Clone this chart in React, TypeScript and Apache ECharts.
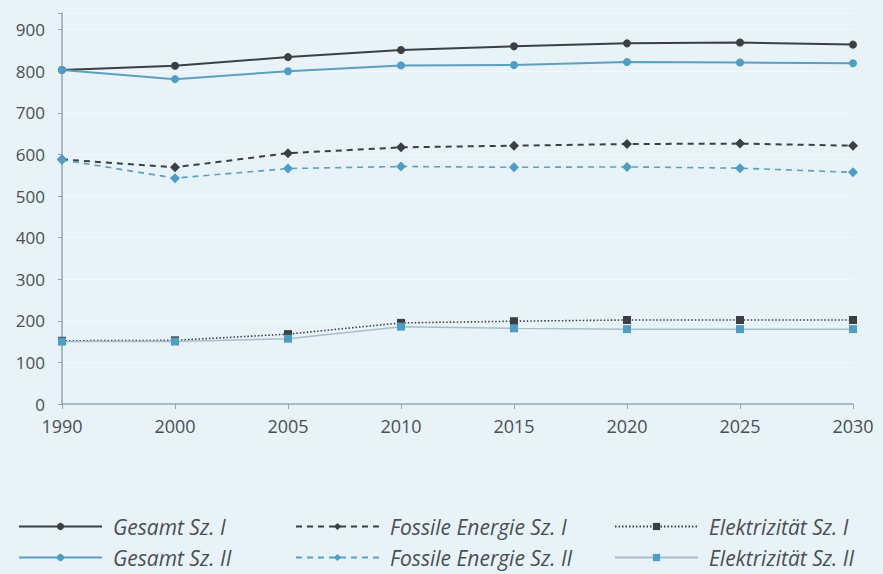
import React, { useEffect, useRef } from "react";
import * as echarts from "echarts";

const years = ["1990", "2000", "2005", "2010", "2015", "2020", "2025", "2030"];
const gesamtI = [803, 813, 834, 851, 860, 867, 869, 864];
const gesamtII = [803, 781, 800, 814, 815, 822, 821, 819];
const fossilI = [588, 569, 603, 617, 621, 625, 626, 621];
const fossilII = [587, 543, 566, 571, 569, 570, 567, 557];
const elekI = [152, 153, 168, 195, 199, 202, 202, 202];
const elekII = [150, 150, 157, 186, 182, 180, 180, 180];
const seriesNames = [
  "Gesamt Sz. I",
  "Gesamt Sz. II",
  "Fossile Energie Sz. I",
  "Fossile Energie Sz. II",
  "Elektrizität Sz. I",
  "Elektrizität Sz. II",
];

const dark = "#3a4042";
const blue = "#4f9dc4";
const lightLine = "#a9bec8";

export default function App() {
  const ref = useRef<HTMLDivElement>(null);
  useEffect(() => {
    document.body.style.margin = "0";
    const chart = echarts.init(ref.current!, null, { renderer: "svg" });
    const mk = (name: string, data: number[], color: string, lineColor: string, type: any, symbol: string, width: number) => ({
      name,
      type: "line",
      data,
      symbol,
      symbolSize: symbol === "diamond" ? 10 : 8,
      itemStyle: { color },
      lineStyle: { color: lineColor, type, width },
      z: 3,
    });
    const lefts = [18, 295, 614];
    const tops = [516, 547];
    const legends = seriesNames.map((n, i) => ({
      left: lefts[Math.floor(i / 2)],
      top: tops[i % 2],
      itemWidth: 83,
      itemHeight: 9,
      padding: 0,
      data: [n],
      textStyle: {
        fontFamily: "Open Sans",
        fontStyle: "italic",
        fontSize: 21,
        color: "#4a4f52",
        padding: [0, 0, 0, 6],
      },
    }));
    chart.setOption({
      animation: false,
      backgroundColor: "#e7f3f9",
      grid: { left: 62, right: 30, top: 13, bottom: 170 },
      xAxis: {
        type: "category",
        data: years,
        boundaryGap: false,
        axisLine: { lineStyle: { color: "#8fa8b3", width: 1.5 } },
        axisTick: { show: true, length: 5, lineStyle: { color: "#8fa8b3" } },
        axisLabel: { fontFamily: "Open Sans", fontSize: 18, color: "#4a4f52", margin: 13 },
      },
      yAxis: {
        type: "value",
        min: 0,
        max: 940,
        interval: 100,
        axisLine: { show: true, lineStyle: { color: "#8fa8b3", width: 1.5 } },
        axisTick: { show: true, length: 4, lineStyle: { color: "#8fa8b3" } },
        splitLine: { show: true, lineStyle: { color: "rgba(255,255,255,0.45)" } },
        axisLabel: {
          fontFamily: "Open Sans",
          fontSize: 17,
          color: "#4a4f52",
          margin: 17,
          formatter: (v: number) => (v % 100 === 0 ? String(v) : ""),
        },
      },
      legend: legends,
      series: [
        mk(seriesNames[0], gesamtI, dark, dark, "solid", "circle", 2),
        mk(seriesNames[1], gesamtII, blue, "#5c9fbf", "solid", "circle", 2),
        mk(seriesNames[2], fossilI, dark, dark, [6, 5], "diamond", 2),
        mk(seriesNames[3], fossilII, blue, "#5c9fbf", [6, 5], "diamond", 1.6),
        mk(seriesNames[4], elekI, dark, dark, [1.5, 2], "rect", 1.6),
        mk(seriesNames[5], elekII, blue, lightLine, "solid", "rect", 1.5),
      ],
    });
    return () => chart.dispose();
  }, []);
  return <div ref={ref} style={{ width: 883, height: 574 }} />;
}
